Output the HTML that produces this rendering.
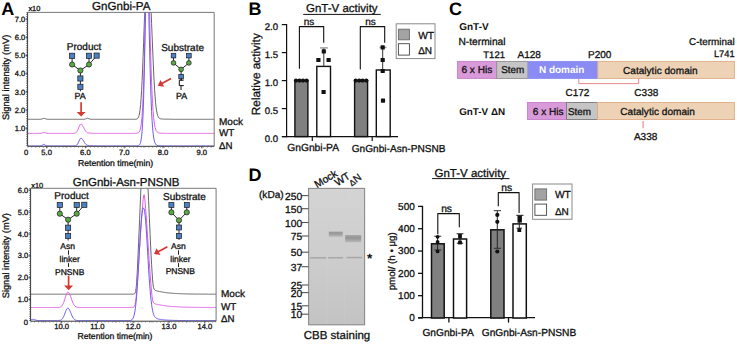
<!DOCTYPE html>
<html><head><meta charset="utf-8"><style>
html,body{margin:0;padding:0;background:#fff;}
svg{display:block;}
text{font-family:"Liberation Sans",sans-serif;text-rendering:geometricPrecision;}
</style></head><body>
<svg width="737" height="344" viewBox="0 0 737 344" font-family="Liberation Sans, sans-serif">
<rect width="737" height="344" fill="#fff"/>
<text x="1.20" y="14.60" font-size="18" text-anchor="start" font-weight="bold" fill="#000" >A</text>
<text x="92.00" y="9.70" font-size="11.6" text-anchor="start" fill="#111" stroke="#111" stroke-width="0.3" >GnGnbi-PA</text>
<text x="28.40" y="11.00" font-size="7.4" text-anchor="start" fill="#111" stroke="#111" stroke-width="0.3" >x10</text>
<defs><clipPath id="cA1"><rect x="27.6" y="12.4" width="186.6" height="133.9"/></clipPath><clipPath id="cA2"><rect x="30.6" y="188.3" width="185.5" height="132.89999999999998"/></clipPath></defs>
<g clip-path="url(#cA1)">
<path d="M27.6,119.3 L28.1,119.3 L28.6,119.3 L29.1,119.3 L29.6,119.3 L30.1,119.3 L30.6,119.3 L31.1,119.3 L31.6,119.3 L32.1,119.3 L32.6,119.3 L33.1,119.3 L33.6,119.3 L34.1,119.3 L34.6,119.3 L35.1,119.3 L35.6,119.3 L36.1,119.3 L36.6,119.3 L37.1,119.3 L37.6,119.3 L38.1,119.3 L38.6,119.3 L39.1,119.3 L39.6,119.3 L40.1,119.3 L40.6,119.2 L41.1,119.2 L41.6,119.1 L42.1,118.9 L42.6,118.7 L43.1,118.6 L43.6,118.4 L44.1,118.4 L44.6,118.5 L45.1,118.6 L45.6,118.8 L46.1,119.0 L46.6,119.1 L47.1,119.2 L47.6,119.3 L48.1,119.3 L48.6,119.3 L49.1,119.3 L49.6,119.3 L50.1,119.3 L50.6,119.3 L51.1,119.3 L51.6,119.3 L52.1,119.3 L52.6,119.3 L53.1,119.3 L53.6,119.3 L54.1,119.3 L54.6,119.3 L55.1,119.3 L55.6,119.3 L56.1,119.3 L56.6,119.3 L57.1,119.3 L57.6,119.3 L58.1,119.3 L58.6,119.3 L59.1,119.3 L59.6,119.3 L60.1,119.3 L60.6,119.3 L61.1,119.3 L61.6,119.3 L62.1,119.3 L62.6,119.3 L63.1,119.3 L63.6,119.3 L64.1,119.3 L64.6,119.3 L65.1,119.3 L65.6,119.3 L66.1,119.3 L66.6,119.3 L67.1,119.3 L67.6,119.3 L68.1,119.3 L68.6,119.3 L69.1,119.3 L69.6,119.3 L70.1,119.3 L70.6,119.3 L71.1,119.3 L71.6,119.3 L72.1,119.3 L72.6,119.3 L73.1,119.3 L73.6,119.3 L74.1,119.3 L74.6,119.3 L75.1,119.3 L75.6,119.3 L76.1,119.3 L76.6,119.3 L77.1,119.3 L77.6,119.3 L78.1,119.3 L78.6,119.3 L79.1,119.3 L79.6,119.3 L80.1,119.3 L80.6,119.3 L81.1,119.3 L81.6,119.3 L82.1,119.3 L82.6,119.3 L83.1,119.3 L83.6,119.3 L84.1,119.2 L84.6,119.2 L85.1,119.1 L85.6,118.9 L86.1,118.7 L86.6,118.5 L87.1,118.3 L87.6,118.3 L88.1,118.4 L88.6,118.6 L89.1,118.8 L89.6,119.0 L90.1,119.1 L90.6,119.2 L91.1,119.3 L91.6,119.3 L92.1,119.3 L92.6,119.3 L93.1,119.3 L93.6,119.3 L94.1,119.3 L94.6,119.3 L95.1,119.3 L95.6,119.3 L96.1,119.3 L96.6,119.3 L97.1,119.3 L97.6,119.3 L98.1,119.3 L98.6,119.3 L99.1,119.3 L99.6,119.3 L100.1,119.3 L100.6,119.3 L101.1,119.3 L101.6,119.3 L102.1,119.3 L102.6,119.3 L103.1,119.3 L103.6,119.3 L104.1,119.3 L104.6,119.3 L105.1,119.3 L105.6,119.3 L106.1,119.3 L106.6,119.3 L107.1,119.3 L107.6,119.3 L108.1,119.3 L108.6,119.3 L109.1,119.3 L109.6,119.3 L110.1,119.3 L110.6,119.3 L111.1,119.3 L111.6,119.3 L112.1,119.3 L112.6,119.3 L113.1,119.3 L113.6,119.3 L114.1,119.3 L114.6,119.3 L115.1,119.3 L115.6,119.3 L116.1,119.3 L116.6,119.3 L117.1,119.3 L117.6,119.3 L118.1,119.3 L118.6,119.3 L119.1,119.3 L119.6,119.3 L120.1,119.3 L120.6,119.3 L121.1,119.3 L121.6,119.3 L122.1,119.3 L122.6,119.3 L123.1,119.3 L123.6,119.3 L124.1,119.3 L124.6,119.3 L125.1,119.3 L125.6,119.3 L126.1,119.3 L126.6,119.3 L127.1,119.3 L127.6,119.3 L128.1,119.3 L128.6,119.3 L129.1,119.3 L129.6,119.3 L130.1,119.3 L130.6,119.3 L131.1,119.3 L131.6,119.3 L132.1,119.3 L132.6,119.3 L133.1,119.3 L133.6,119.3 L134.1,119.3 L134.6,119.3 L135.1,119.3 L135.6,119.2 L136.1,119.2 L136.6,119.1 L137.1,118.9 L137.6,118.5 L138.1,117.9 L138.6,116.9 L139.1,115.3 L139.6,112.9 L140.1,109.5 L140.6,104.7 L141.1,98.4 L141.6,90.4 L142.1,80.6 L142.6,69.2 L143.1,56.4 L143.6,42.7 L144.1,28.8 L144.6,15.4 L145.1,3.1 L145.6,-7.5 L146.1,-15.7 L146.6,-21.4 L147.1,-24.7 L147.6,-25.7 L148.1,-25.4 L148.6,-23.7 L149.1,-20.1 L149.6,-14.7 L150.1,-7.9 L150.6,1.0 L151.1,11.6 L151.6,23.3 L152.1,35.6 L152.6,48.0 L153.1,59.9 L153.6,71.0 L154.1,80.9 L154.6,89.6 L155.1,96.8 L155.6,102.7 L156.1,107.3 L156.6,110.8 L157.1,113.4 L157.6,115.3 L158.1,116.6 L158.6,117.4 L159.1,118.0 L159.6,118.4 L160.1,118.6 L160.6,118.8 L161.1,118.9 L161.6,119.0 L162.1,119.0 L162.6,119.0 L163.1,119.1 L163.6,119.1 L164.1,119.1 L164.6,119.1 L165.1,119.1 L165.6,119.2 L166.1,119.2 L166.6,119.2 L167.1,119.2 L167.6,119.2 L168.1,119.2 L168.6,119.2 L169.1,119.2 L169.6,119.2 L170.1,119.2 L170.6,119.2 L171.1,119.3 L171.6,119.3 L172.1,119.3 L172.6,119.3 L173.1,119.3 L173.6,119.3 L174.1,119.3 L174.6,119.3 L175.1,119.3 L175.6,119.3 L176.1,119.3 L176.6,119.3 L177.1,119.3 L177.6,119.3 L178.1,119.3 L178.6,119.3 L179.1,119.3 L179.6,119.3 L180.1,119.3 L180.6,119.3 L181.1,119.3 L181.6,119.3 L182.1,119.3 L182.6,119.3 L183.1,119.3 L183.6,119.3 L184.1,119.3 L184.6,119.3 L185.1,119.3 L185.6,119.3 L186.1,119.3 L186.6,119.3 L187.1,119.3 L187.6,119.3 L188.1,119.3 L188.6,119.3 L189.1,119.3 L189.6,119.3 L190.1,119.3 L190.6,119.3 L191.1,119.3 L191.6,119.3 L192.1,119.3 L192.6,119.3 L193.1,119.3 L193.6,119.3 L194.1,119.3 L194.6,119.3 L195.1,119.3 L195.6,119.3 L196.1,119.3 L196.6,119.3 L197.1,119.3 L197.6,119.3 L198.1,119.3 L198.6,119.3 L199.1,119.3 L199.6,119.3 L200.1,119.3 L200.6,119.3 L201.1,119.3 L201.6,119.3 L202.1,119.3 L202.6,119.3 L203.1,119.3 L203.6,119.3 L204.1,119.3 L204.6,119.3 L205.1,119.3 L205.6,119.3 L206.1,119.3 L206.6,119.3 L207.1,119.3 L207.6,119.3 L208.1,119.3 L208.6,119.3 L209.1,119.3 L209.6,119.3 L210.1,119.3 L210.6,119.3 L211.1,119.3 L211.6,119.3 L212.1,119.3 L212.6,119.3 L213.1,119.3 L213.6,119.3 L214.1,119.3" fill="none" stroke="#555555" stroke-width="0.9" stroke-linejoin="round" />
<path d="M27.6,133.4 L28.1,133.4 L28.6,133.4 L29.1,133.4 L29.6,133.4 L30.1,133.4 L30.6,133.4 L31.1,133.4 L31.6,133.4 L32.1,133.4 L32.6,133.4 L33.1,133.4 L33.6,133.4 L34.1,133.4 L34.6,133.4 L35.1,133.4 L35.6,133.4 L36.1,133.4 L36.6,133.4 L37.1,133.4 L37.6,133.4 L38.1,133.4 L38.6,133.4 L39.1,133.4 L39.6,133.4 L40.1,133.4 L40.6,133.3 L41.1,133.3 L41.6,133.2 L42.1,133.0 L42.6,132.8 L43.1,132.6 L43.6,132.4 L44.1,132.4 L44.6,132.5 L45.1,132.7 L45.6,132.9 L46.1,133.1 L46.6,133.2 L47.1,133.3 L47.6,133.4 L48.1,133.4 L48.6,133.4 L49.1,133.4 L49.6,133.4 L50.1,133.4 L50.6,133.4 L51.1,133.4 L51.6,133.4 L52.1,133.4 L52.6,133.4 L53.1,133.4 L53.6,133.4 L54.1,133.4 L54.6,133.4 L55.1,133.4 L55.6,133.4 L56.1,133.4 L56.6,133.4 L57.1,133.4 L57.6,133.4 L58.1,133.4 L58.6,133.4 L59.1,133.4 L59.6,133.4 L60.1,133.4 L60.6,133.4 L61.1,133.4 L61.6,133.4 L62.1,133.4 L62.6,133.4 L63.1,133.4 L63.6,133.4 L64.1,133.4 L64.6,133.4 L65.1,133.4 L65.6,133.4 L66.1,133.4 L66.6,133.4 L67.1,133.4 L67.6,133.4 L68.1,133.4 L68.6,133.4 L69.1,133.4 L69.6,133.4 L70.1,133.4 L70.6,133.4 L71.1,133.4 L71.6,133.4 L72.1,133.4 L72.6,133.4 L73.1,133.4 L73.6,133.4 L74.1,133.3 L74.6,133.2 L75.1,133.1 L75.6,132.9 L76.1,132.5 L76.6,132.0 L77.1,131.3 L77.6,130.4 L78.1,129.2 L78.6,128.0 L79.1,126.7 L79.6,125.5 L80.1,124.6 L80.6,124.1 L81.1,124.0 L81.6,124.3 L82.1,125.0 L82.6,125.8 L83.1,126.5 L83.6,127.4 L84.1,128.4 L84.6,129.4 L85.1,130.3 L85.6,131.0 L86.1,131.6 L86.6,132.1 L87.1,132.4 L87.6,132.7 L88.1,132.8 L88.6,133.0 L89.1,133.0 L89.6,133.1 L90.1,133.1 L90.6,133.2 L91.1,133.2 L91.6,133.2 L92.1,133.3 L92.6,133.3 L93.1,133.3 L93.6,133.3 L94.1,133.3 L94.6,133.3 L95.1,133.3 L95.6,133.3 L96.1,133.3 L96.6,133.4 L97.1,133.4 L97.6,133.4 L98.1,133.4 L98.6,133.4 L99.1,133.4 L99.6,133.4 L100.1,133.4 L100.6,133.4 L101.1,133.4 L101.6,133.4 L102.1,133.4 L102.6,133.4 L103.1,133.4 L103.6,133.4 L104.1,133.4 L104.6,133.4 L105.1,133.4 L105.6,133.4 L106.1,133.4 L106.6,133.4 L107.1,133.4 L107.6,133.4 L108.1,133.4 L108.6,133.4 L109.1,133.4 L109.6,133.4 L110.1,133.4 L110.6,133.4 L111.1,133.4 L111.6,133.4 L112.1,133.4 L112.6,133.4 L113.1,133.4 L113.6,133.4 L114.1,133.4 L114.6,133.4 L115.1,133.4 L115.6,133.4 L116.1,133.4 L116.6,133.4 L117.1,133.4 L117.6,133.4 L118.1,133.4 L118.6,133.4 L119.1,133.4 L119.6,133.4 L120.1,133.4 L120.6,133.4 L121.1,133.4 L121.6,133.4 L122.1,133.4 L122.6,133.4 L123.1,133.4 L123.6,133.4 L124.1,133.4 L124.6,133.4 L125.1,133.4 L125.6,133.4 L126.1,133.4 L126.6,133.4 L127.1,133.4 L127.6,133.4 L128.1,133.4 L128.6,133.4 L129.1,133.4 L129.6,133.4 L130.1,133.4 L130.6,133.4 L131.1,133.4 L131.6,133.4 L132.1,133.4 L132.6,133.4 L133.1,133.4 L133.6,133.4 L134.1,133.4 L134.6,133.4 L135.1,133.4 L135.6,133.4 L136.1,133.3 L136.6,133.3 L137.1,133.2 L137.6,133.1 L138.1,132.9 L138.6,132.6 L139.1,132.0 L139.6,131.2 L140.1,129.9 L140.6,128.0 L141.1,125.2 L141.6,121.1 L142.1,115.5 L142.6,107.7 L143.1,97.3 L143.6,84.0 L144.1,67.4 L144.6,47.5 L145.1,24.6 L145.6,-0.3 L146.1,-25.4 L146.6,-48.0 L147.1,-64.0 L147.6,-62.7 L148.1,-48.6 L148.6,-29.5 L149.1,-8.2 L149.6,13.2 L150.1,33.3 L150.6,51.9 L151.1,68.4 L151.6,82.5 L152.1,94.2 L152.6,103.7 L153.1,111.3 L153.6,117.1 L154.1,121.6 L154.6,124.9 L155.1,127.4 L155.6,129.1 L156.1,130.4 L156.6,131.3 L157.1,131.9 L157.6,132.3 L158.1,132.6 L158.6,132.8 L159.1,133.0 L159.6,133.1 L160.1,133.2 L160.6,133.2 L161.1,133.2 L161.6,133.3 L162.1,133.3 L162.6,133.3 L163.1,133.3 L163.6,133.3 L164.1,133.3 L164.6,133.3 L165.1,133.3 L165.6,133.4 L166.1,133.4 L166.6,133.4 L167.1,133.4 L167.6,133.4 L168.1,133.4 L168.6,133.4 L169.1,133.4 L169.6,133.4 L170.1,133.4 L170.6,133.4 L171.1,133.4 L171.6,133.4 L172.1,133.4 L172.6,133.4 L173.1,133.4 L173.6,133.4 L174.1,133.4 L174.6,133.4 L175.1,133.4 L175.6,133.4 L176.1,133.4 L176.6,133.4 L177.1,133.4 L177.6,133.4 L178.1,133.4 L178.6,133.4 L179.1,133.4 L179.6,133.4 L180.1,133.4 L180.6,133.4 L181.1,133.4 L181.6,133.4 L182.1,133.4 L182.6,133.4 L183.1,133.4 L183.6,133.4 L184.1,133.4 L184.6,133.4 L185.1,133.4 L185.6,133.4 L186.1,133.4 L186.6,133.4 L187.1,133.4 L187.6,133.4 L188.1,133.4 L188.6,133.4 L189.1,133.4 L189.6,133.4 L190.1,133.4 L190.6,133.4 L191.1,133.4 L191.6,133.4 L192.1,133.4 L192.6,133.4 L193.1,133.4 L193.6,133.4 L194.1,133.4 L194.6,133.4 L195.1,133.4 L195.6,133.4 L196.1,133.4 L196.6,133.4 L197.1,133.4 L197.6,133.4 L198.1,133.4 L198.6,133.4 L199.1,133.4 L199.6,133.4 L200.1,133.4 L200.6,133.4 L201.1,133.4 L201.6,133.4 L202.1,133.4 L202.6,133.4 L203.1,133.4 L203.6,133.4 L204.1,133.4 L204.6,133.4 L205.1,133.4 L205.6,133.4 L206.1,133.4 L206.6,133.4 L207.1,133.4 L207.6,133.4 L208.1,133.4 L208.6,133.4 L209.1,133.4 L209.6,133.4 L210.1,133.4 L210.6,133.4 L211.1,133.4 L211.6,133.4 L212.1,133.4 L212.6,133.4 L213.1,133.4 L213.6,133.4 L214.1,133.4" fill="none" stroke="#e05ce6" stroke-width="1.0" stroke-linejoin="round" />
<path d="M27.6,146.0 L28.1,146.0 L28.6,146.0 L29.1,146.0 L29.6,146.0 L30.1,146.0 L30.6,146.0 L31.1,146.0 L31.6,146.0 L32.1,146.0 L32.6,146.0 L33.1,146.0 L33.6,146.0 L34.1,146.0 L34.6,146.0 L35.1,146.0 L35.6,146.0 L36.1,146.0 L36.6,146.0 L37.1,146.0 L37.6,146.0 L38.1,146.0 L38.6,146.0 L39.1,146.0 L39.6,146.0 L40.1,146.0 L40.6,145.9 L41.1,145.8 L41.6,145.6 L42.1,145.3 L42.6,145.0 L43.1,144.6 L43.6,144.4 L44.1,144.4 L44.6,144.7 L45.1,145.1 L45.6,145.4 L46.1,145.7 L46.6,145.9 L47.1,145.9 L47.6,146.0 L48.1,146.0 L48.6,146.0 L49.1,146.0 L49.6,146.0 L50.1,146.0 L50.6,146.0 L51.1,146.0 L51.6,146.0 L52.1,146.0 L52.6,146.0 L53.1,146.0 L53.6,146.0 L54.1,146.0 L54.6,146.0 L55.1,146.0 L55.6,146.0 L56.1,146.0 L56.6,146.0 L57.1,146.0 L57.6,146.0 L58.1,146.0 L58.6,146.0 L59.1,146.0 L59.6,146.0 L60.1,146.0 L60.6,146.0 L61.1,146.0 L61.6,146.0 L62.1,146.0 L62.6,146.0 L63.1,146.0 L63.6,146.0 L64.1,146.0 L64.6,146.0 L65.1,146.0 L65.6,146.0 L66.1,146.0 L66.6,146.0 L67.1,146.0 L67.6,146.0 L68.1,146.0 L68.6,146.0 L69.1,146.0 L69.6,146.0 L70.1,146.0 L70.6,146.0 L71.1,146.0 L71.6,146.0 L72.1,146.0 L72.6,146.0 L73.1,146.0 L73.6,146.0 L74.1,146.0 L74.6,145.9 L75.1,145.9 L75.6,145.8 L76.1,145.6 L76.6,145.2 L77.1,144.7 L77.6,144.0 L78.1,143.1 L78.6,142.1 L79.1,140.9 L79.6,139.8 L80.1,138.9 L80.6,138.3 L81.1,138.2 L81.6,138.4 L82.1,139.0 L82.6,139.6 L83.1,140.2 L83.6,140.9 L84.1,141.8 L84.6,142.7 L85.1,143.4 L85.6,144.0 L86.1,144.5 L86.6,144.9 L87.1,145.1 L87.6,145.3 L88.1,145.5 L88.6,145.6 L89.1,145.6 L89.6,145.7 L90.1,145.7 L90.6,145.8 L91.1,145.8 L91.6,145.8 L92.1,145.8 L92.6,145.9 L93.1,145.9 L93.6,145.9 L94.1,145.9 L94.6,145.9 L95.1,145.9 L95.6,145.9 L96.1,145.9 L96.6,145.9 L97.1,146.0 L97.6,146.0 L98.1,146.0 L98.6,146.0 L99.1,146.0 L99.6,146.0 L100.1,146.0 L100.6,146.0 L101.1,146.0 L101.6,146.0 L102.1,146.0 L102.6,146.0 L103.1,146.0 L103.6,146.0 L104.1,146.0 L104.6,146.0 L105.1,146.0 L105.6,146.0 L106.1,146.0 L106.6,146.0 L107.1,146.0 L107.6,146.0 L108.1,146.0 L108.6,146.0 L109.1,146.0 L109.6,146.0 L110.1,146.0 L110.6,146.0 L111.1,146.0 L111.6,146.0 L112.1,146.0 L112.6,146.0 L113.1,146.0 L113.6,146.0 L114.1,146.0 L114.6,146.0 L115.1,146.0 L115.6,146.0 L116.1,146.0 L116.6,146.0 L117.1,146.0 L117.6,146.0 L118.1,146.0 L118.6,146.0 L119.1,146.0 L119.6,146.0 L120.1,146.0 L120.6,146.0 L121.1,146.0 L121.6,146.0 L122.1,146.0 L122.6,146.0 L123.1,146.0 L123.6,146.0 L124.1,146.0 L124.6,146.0 L125.1,146.0 L125.6,146.0 L126.1,146.0 L126.6,146.0 L127.1,146.0 L127.6,146.0 L128.1,146.0 L128.6,146.0 L129.1,146.0 L129.6,146.0 L130.1,146.0 L130.6,146.0 L131.1,146.0 L131.6,146.0 L132.1,146.0 L132.6,146.0 L133.1,146.0 L133.6,146.0 L134.1,146.0 L134.6,146.0 L135.1,146.0 L135.6,146.0 L136.1,146.0 L136.6,146.0 L137.1,145.9 L137.6,145.9 L138.1,145.8 L138.6,145.6 L139.1,145.2 L139.6,144.7 L140.1,143.7 L140.6,142.3 L141.1,139.9 L141.6,136.4 L142.1,131.1 L142.6,123.5 L143.1,113.0 L143.6,98.9 L144.1,80.8 L144.6,58.6 L145.1,32.9 L145.6,5.0 L146.1,-22.3 L146.6,-44.8 L147.1,-53.2 L147.6,-40.7 L148.1,-20.9 L148.6,2.2 L149.1,25.9 L149.6,48.3 L150.1,68.1 L150.6,85.4 L151.1,99.9 L151.6,111.6 L152.1,120.8 L152.6,127.9 L153.1,133.2 L153.6,137.0 L154.1,139.8 L154.6,141.8 L155.1,143.1 L155.6,144.0 L156.1,144.6 L156.6,145.1 L157.1,145.3 L157.6,145.5 L158.1,145.6 L158.6,145.7 L159.1,145.8 L159.6,145.8 L160.1,145.8 L160.6,145.9 L161.1,145.9 L161.6,145.9 L162.1,145.9 L162.6,145.9 L163.1,145.9 L163.6,145.9 L164.1,145.9 L164.6,146.0 L165.1,146.0 L165.6,146.0 L166.1,146.0 L166.6,146.0 L167.1,146.0 L167.6,146.0 L168.1,146.0 L168.6,146.0 L169.1,146.0 L169.6,146.0 L170.1,146.0 L170.6,146.0 L171.1,146.0 L171.6,146.0 L172.1,146.0 L172.6,146.0 L173.1,146.0 L173.6,146.0 L174.1,146.0 L174.6,146.0 L175.1,146.0 L175.6,146.0 L176.1,146.0 L176.6,146.0 L177.1,146.0 L177.6,146.0 L178.1,146.0 L178.6,146.0 L179.1,146.0 L179.6,146.0 L180.1,146.0 L180.6,146.0 L181.1,146.0 L181.6,146.0 L182.1,146.0 L182.6,146.0 L183.1,146.0 L183.6,146.0 L184.1,146.0 L184.6,146.0 L185.1,146.0 L185.6,146.0 L186.1,146.0 L186.6,146.0 L187.1,146.0 L187.6,146.0 L188.1,146.0 L188.6,146.0 L189.1,146.0 L189.6,146.0 L190.1,146.0 L190.6,146.0 L191.1,146.0 L191.6,146.0 L192.1,146.0 L192.6,146.0 L193.1,146.0 L193.6,146.0 L194.1,146.0 L194.6,146.0 L195.1,146.0 L195.6,146.0 L196.1,146.0 L196.6,146.0 L197.1,146.0 L197.6,146.0 L198.1,146.0 L198.6,146.0 L199.1,146.0 L199.6,146.0 L200.1,146.0 L200.6,146.0 L201.1,146.0 L201.6,146.0 L202.1,146.0 L202.6,146.0 L203.1,146.0 L203.6,146.0 L204.1,146.0 L204.6,146.0 L205.1,146.0 L205.6,146.0 L206.1,146.0 L206.6,146.0 L207.1,146.0 L207.6,146.0 L208.1,146.0 L208.6,146.0 L209.1,146.0 L209.6,146.0 L210.1,146.0 L210.6,146.0 L211.1,146.0 L211.6,146.0 L212.1,146.0 L212.6,146.0 L213.1,146.0 L213.6,146.0 L214.1,146.0" fill="none" stroke="#6a5cf0" stroke-width="1.0" stroke-linejoin="round" />
</g>
<line x1="27.60" y1="12.40" x2="214.20" y2="12.40" stroke="#6a6a6a" stroke-width="0.9" />
<line x1="214.20" y1="12.40" x2="214.20" y2="146.30" stroke="#6a6a6a" stroke-width="0.9" />
<line x1="27.60" y1="12.40" x2="27.60" y2="146.30" stroke="#222" stroke-width="0.9" />
<line x1="27.60" y1="146.30" x2="214.20" y2="146.30" stroke="#222" stroke-width="0.9" />
<line x1="26.70" y1="12.40" x2="26.70" y2="146.30" stroke="#444" stroke-width="1.0" stroke-dasharray="0.7 1.12"/>
<line x1="27.60" y1="147.20" x2="214.20" y2="147.20" stroke="#666" stroke-width="0.9" stroke-dasharray="0.7 3.2"/>
<text x="25.20" y="130.90" font-size="7.5" text-anchor="end" fill="#111" stroke="#111" stroke-width="0.3" >1.0</text>
<line x1="25.60" y1="128.30" x2="27.60" y2="128.30" stroke="#222" stroke-width="0.8" />
<text x="25.20" y="112.70" font-size="7.5" text-anchor="end" fill="#111" stroke="#111" stroke-width="0.3" >2.0</text>
<line x1="25.60" y1="110.10" x2="27.60" y2="110.10" stroke="#222" stroke-width="0.8" />
<text x="25.20" y="94.50" font-size="7.5" text-anchor="end" fill="#111" stroke="#111" stroke-width="0.3" >3.0</text>
<line x1="25.60" y1="91.90" x2="27.60" y2="91.90" stroke="#222" stroke-width="0.8" />
<text x="25.20" y="76.30" font-size="7.5" text-anchor="end" fill="#111" stroke="#111" stroke-width="0.3" >4.0</text>
<line x1="25.60" y1="73.70" x2="27.60" y2="73.70" stroke="#222" stroke-width="0.8" />
<text x="25.20" y="58.10" font-size="7.5" text-anchor="end" fill="#111" stroke="#111" stroke-width="0.3" >5.0</text>
<line x1="25.60" y1="55.50" x2="27.60" y2="55.50" stroke="#222" stroke-width="0.8" />
<text x="25.20" y="39.90" font-size="7.5" text-anchor="end" fill="#111" stroke="#111" stroke-width="0.3" >6.0</text>
<line x1="25.60" y1="37.30" x2="27.60" y2="37.30" stroke="#222" stroke-width="0.8" />
<text x="25.20" y="21.70" font-size="7.5" text-anchor="end" fill="#111" stroke="#111" stroke-width="0.3" >7.0</text>
<line x1="25.60" y1="19.10" x2="27.60" y2="19.10" stroke="#222" stroke-width="0.8" />
<text x="26.00" y="154.70" font-size="7.6" text-anchor="middle" fill="#111" stroke="#111" stroke-width="0.3" >0</text>
<line x1="46.60" y1="146.30" x2="46.60" y2="148.30" stroke="#333" stroke-width="0.8" />
<text x="46.60" y="154.80" font-size="7.6" text-anchor="middle" fill="#111" stroke="#111" stroke-width="0.3" >5.0</text>
<line x1="85.40" y1="146.30" x2="85.40" y2="148.30" stroke="#333" stroke-width="0.8" />
<text x="85.40" y="154.80" font-size="7.6" text-anchor="middle" fill="#111" stroke="#111" stroke-width="0.3" >6.0</text>
<line x1="124.20" y1="146.30" x2="124.20" y2="148.30" stroke="#333" stroke-width="0.8" />
<text x="124.20" y="154.80" font-size="7.6" text-anchor="middle" fill="#111" stroke="#111" stroke-width="0.3" >7.0</text>
<line x1="163.00" y1="146.30" x2="163.00" y2="148.30" stroke="#333" stroke-width="0.8" />
<text x="163.00" y="154.80" font-size="7.6" text-anchor="middle" fill="#111" stroke="#111" stroke-width="0.3" >8.0</text>
<line x1="201.80" y1="146.30" x2="201.80" y2="148.30" stroke="#333" stroke-width="0.8" />
<text x="201.80" y="154.80" font-size="7.6" text-anchor="middle" fill="#111" stroke="#111" stroke-width="0.3" >9.0</text>
<line x1="66.00" y1="146.30" x2="66.00" y2="147.50" stroke="#555" stroke-width="0.7" />
<line x1="104.80" y1="146.30" x2="104.80" y2="147.50" stroke="#555" stroke-width="0.7" />
<line x1="143.60" y1="146.30" x2="143.60" y2="147.50" stroke="#555" stroke-width="0.7" />
<line x1="182.40" y1="146.30" x2="182.40" y2="147.50" stroke="#555" stroke-width="0.7" />
<line x1="201.80" y1="146.30" x2="201.80" y2="147.50" stroke="#555" stroke-width="0.7" />
<text x="78.10" y="165.80" font-size="8.6" text-anchor="start" fill="#111" stroke="#111" stroke-width="0.3" >Retention time(min)</text>
<text transform="translate(9.3,77.4) rotate(-90)" font-size="9.3" text-anchor="middle" fill="#111" stroke="#111" stroke-width="0.3">Signal intensity (mV)</text>
<text x="219.00" y="124.50" font-size="10.0" text-anchor="start" fill="#111" stroke="#111" stroke-width="0.3" >Mock</text>
<text x="219.00" y="135.80" font-size="9.9" text-anchor="start" fill="#111" stroke="#111" stroke-width="0.3" >WT</text>
<text x="219.00" y="148.70" font-size="9.7" text-anchor="start" fill="#111" stroke="#111" stroke-width="0.3" >&#916;N</text>
<text x="84.00" y="49.60" font-size="10.0" text-anchor="middle" fill="#111" stroke="#111" stroke-width="0.3" >Product</text>
<line x1="72.10" y1="55.80" x2="72.10" y2="64.50" stroke="#111" stroke-width="0.9" />
<line x1="72.10" y1="64.50" x2="80.40" y2="70.50" stroke="#111" stroke-width="0.9" />
<line x1="89.00" y1="64.50" x2="80.40" y2="70.50" stroke="#111" stroke-width="0.9" />
<line x1="89.00" y1="55.80" x2="89.00" y2="64.50" stroke="#111" stroke-width="0.9" />
<line x1="96.60" y1="55.80" x2="89.00" y2="64.50" stroke="#111" stroke-width="0.9" />
<line x1="80.40" y1="70.50" x2="80.40" y2="91.30" stroke="#111" stroke-width="0.9" />
<rect x="69.50" y="53.20" width="5.20" height="5.20" fill="#4d7fc4" stroke="#1a1a1a" stroke-width="0.7" />
<rect x="86.40" y="53.20" width="5.20" height="5.20" fill="#4d7fc4" stroke="#1a1a1a" stroke-width="0.7" />
<rect x="94.00" y="53.00" width="5.20" height="5.20" fill="#4d7fc4" stroke="#1a1a1a" stroke-width="0.7" />
<circle cx="72.10" cy="64.50" r="2.6" fill="#5aa845" stroke="#1a1a1a" stroke-width="0.7"/>
<circle cx="89.00" cy="64.50" r="2.6" fill="#5aa845" stroke="#1a1a1a" stroke-width="0.7"/>
<circle cx="80.40" cy="70.50" r="2.6" fill="#5aa845" stroke="#1a1a1a" stroke-width="0.7"/>
<rect x="77.80" y="75.90" width="5.20" height="5.20" fill="#4d7fc4" stroke="#1a1a1a" stroke-width="0.7" />
<rect x="77.80" y="84.20" width="5.20" height="5.20" fill="#4d7fc4" stroke="#1a1a1a" stroke-width="0.7" />
<text x="80.00" y="99.20" font-size="8.9" text-anchor="middle" fill="#111" stroke="#111" stroke-width="0.3" >PA</text>
<line x1="81.10" y1="102.20" x2="81.10" y2="112.60" stroke="#d43a33" stroke-width="1.7" />
<path d="M76.60,111.90 L85.60,111.90 L81.10,116.60 Z" fill="#d43a33"/>
<text x="182.60" y="51.10" font-size="10.0" text-anchor="middle" fill="#111" stroke="#111" stroke-width="0.3" >Substrate</text>
<line x1="173.50" y1="55.60" x2="173.50" y2="62.90" stroke="#111" stroke-width="0.9" />
<line x1="173.50" y1="62.90" x2="181.10" y2="69.40" stroke="#111" stroke-width="0.9" />
<line x1="188.90" y1="62.90" x2="181.10" y2="69.40" stroke="#111" stroke-width="0.9" />
<line x1="188.90" y1="55.60" x2="188.90" y2="62.90" stroke="#111" stroke-width="0.9" />
<line x1="181.10" y1="69.40" x2="181.10" y2="80.60" stroke="#111" stroke-width="0.9" />
<rect x="171.20" y="53.30" width="4.60" height="4.60" fill="#4d7fc4" stroke="#1a1a1a" stroke-width="0.7" />
<rect x="186.60" y="53.30" width="4.60" height="4.60" fill="#4d7fc4" stroke="#1a1a1a" stroke-width="0.7" />
<circle cx="173.50" cy="62.90" r="2.35" fill="#5aa845" stroke="#1a1a1a" stroke-width="0.7"/>
<circle cx="188.90" cy="62.90" r="2.35" fill="#5aa845" stroke="#1a1a1a" stroke-width="0.7"/>
<circle cx="181.10" cy="69.40" r="2.35" fill="#5aa845" stroke="#1a1a1a" stroke-width="0.7"/>
<rect x="178.80" y="74.30" width="4.60" height="4.60" fill="#4d7fc4" stroke="#1a1a1a" stroke-width="0.7" />
<path d="M181.2,78.0 L181.2,80.2" fill="none" stroke="#111" stroke-width="0.9" stroke-linejoin="round" />
<path d="M183.6,80.2 L179.3,80.2 L179.3,85.6 L183.8,85.6" fill="none" stroke="#111" stroke-width="1.0" stroke-linejoin="round" />
<line x1="181.00" y1="85.60" x2="181.00" y2="90.00" stroke="#111" stroke-width="1.0" />
<text x="181.50" y="98.80" font-size="8.9" text-anchor="middle" fill="#111" stroke="#111" stroke-width="0.3" >PA</text>
<line x1="171.00" y1="78.60" x2="161.93" y2="83.55" stroke="#d43a33" stroke-width="1.7" />
<path d="M160.50,79.89 L164.23,86.73 L157.80,85.80 Z" fill="#d43a33"/>
<text x="72.70" y="186.30" font-size="11.5" text-anchor="start" fill="#111" stroke="#111" stroke-width="0.3" >GnGnbi-Asn-PNSNB</text>
<text x="31.30" y="187.60" font-size="7.4" text-anchor="start" fill="#111" stroke="#111" stroke-width="0.3" >x10</text>
<g clip-path="url(#cA2)">
<path d="M30.6,294.2 L31.1,294.2 L31.6,294.2 L32.1,294.2 L32.6,294.2 L33.1,294.2 L33.6,294.2 L34.1,294.2 L34.6,294.2 L35.1,294.2 L35.6,294.2 L36.1,294.2 L36.6,294.2 L37.1,294.2 L37.6,294.2 L38.1,294.2 L38.6,294.2 L39.1,294.2 L39.6,294.2 L40.1,294.2 L40.6,294.2 L41.1,294.2 L41.6,294.2 L42.1,294.2 L42.6,294.2 L43.1,294.2 L43.6,294.2 L44.1,294.2 L44.6,294.2 L45.1,294.2 L45.6,294.2 L46.1,294.2 L46.6,294.2 L47.1,294.2 L47.6,294.2 L48.1,294.2 L48.6,294.2 L49.1,294.2 L49.6,294.2 L50.1,294.2 L50.6,294.2 L51.1,294.2 L51.6,294.2 L52.1,294.2 L52.6,294.2 L53.1,294.2 L53.6,294.2 L54.1,294.2 L54.6,294.2 L55.1,294.2 L55.6,294.2 L56.1,294.2 L56.6,294.2 L57.1,294.2 L57.6,294.2 L58.1,294.2 L58.6,294.2 L59.1,294.2 L59.6,294.2 L60.1,294.2 L60.6,294.2 L61.1,294.2 L61.6,294.2 L62.1,294.2 L62.6,294.2 L63.1,294.2 L63.6,294.2 L64.1,294.2 L64.6,294.2 L65.1,294.2 L65.6,294.2 L66.1,294.2 L66.6,294.2 L67.1,294.2 L67.6,294.2 L68.1,294.2 L68.6,294.2 L69.1,294.2 L69.6,294.2 L70.1,294.2 L70.6,294.2 L71.1,294.2 L71.6,294.2 L72.1,294.2 L72.6,294.2 L73.1,294.2 L73.6,294.2 L74.1,294.2 L74.6,294.2 L75.1,294.2 L75.6,294.2 L76.1,294.2 L76.6,294.2 L77.1,294.2 L77.6,294.2 L78.1,294.2 L78.6,294.2 L79.1,294.2 L79.6,294.2 L80.1,294.2 L80.6,294.2 L81.1,294.2 L81.6,294.2 L82.1,294.2 L82.6,294.2 L83.1,294.2 L83.6,294.2 L84.1,294.2 L84.6,294.2 L85.1,294.2 L85.6,294.2 L86.1,294.2 L86.6,294.2 L87.1,294.2 L87.6,294.2 L88.1,294.2 L88.6,294.2 L89.1,294.2 L89.6,294.2 L90.1,294.2 L90.6,294.2 L91.1,294.2 L91.6,294.2 L92.1,294.2 L92.6,294.2 L93.1,294.2 L93.6,294.2 L94.1,294.2 L94.6,294.2 L95.1,294.2 L95.6,294.2 L96.1,294.2 L96.6,294.2 L97.1,294.2 L97.6,294.2 L98.1,294.2 L98.6,294.2 L99.1,294.2 L99.6,294.2 L100.1,294.2 L100.6,294.2 L101.1,294.2 L101.6,294.2 L102.1,294.2 L102.6,294.2 L103.1,294.2 L103.6,294.2 L104.1,294.2 L104.6,294.2 L105.1,294.2 L105.6,294.2 L106.1,294.2 L106.6,294.2 L107.1,294.2 L107.6,294.2 L108.1,294.2 L108.6,294.2 L109.1,294.2 L109.6,294.2 L110.1,294.2 L110.6,294.2 L111.1,294.2 L111.6,294.2 L112.1,294.2 L112.6,294.2 L113.1,294.2 L113.6,294.2 L114.1,294.2 L114.6,294.2 L115.1,294.2 L115.6,294.2 L116.1,294.2 L116.6,294.2 L117.1,294.2 L117.6,294.2 L118.1,294.2 L118.6,294.2 L119.1,294.2 L119.6,294.2 L120.1,294.2 L120.6,294.2 L121.1,294.2 L121.6,294.2 L122.1,294.2 L122.6,294.2 L123.1,294.2 L123.6,294.2 L124.1,294.2 L124.6,294.2 L125.1,294.2 L125.6,294.2 L126.1,294.2 L126.6,294.2 L127.1,294.2 L127.6,294.2 L128.1,294.2 L128.6,294.2 L129.1,294.2 L129.6,294.2 L130.1,294.2 L130.6,294.2 L131.1,294.2 L131.6,294.2 L132.1,294.2 L132.6,294.2 L133.1,294.2 L133.6,294.1 L134.1,294.0 L134.6,293.7 L135.1,293.0 L135.6,291.5 L136.1,288.4 L136.6,282.9 L137.1,274.9 L137.6,265.0 L138.1,254.1 L138.6,242.7 L139.1,231.0 L139.6,219.3 L140.1,207.6 L140.6,195.8 L141.1,184.2 L141.6,172.7 L142.1,161.3 L142.6,150.1 L143.1,139.6 L143.6,130.1 L144.1,123.5 L144.6,122.8 L145.1,128.2 L145.6,136.7 L146.1,146.6 L146.6,157.1 L147.1,167.8 L147.6,178.7 L148.1,189.8 L148.6,200.8 L149.1,212.0 L149.6,223.1 L150.1,234.2 L150.6,245.2 L151.1,255.7 L151.6,264.6 L152.1,272.9 L152.6,279.9 L153.1,284.8 L153.6,287.7 L154.1,289.2 L154.6,289.9 L155.1,290.3 L155.6,290.5 L156.1,290.7 L156.6,290.8 L157.1,290.9 L157.6,291.1 L158.1,291.2 L158.6,291.3 L159.1,291.4 L159.6,291.5 L160.1,291.6 L160.6,291.7 L161.1,291.8 L161.6,291.9 L162.1,292.0 L162.6,292.1 L163.1,292.2 L163.6,292.3 L164.1,292.4 L164.6,292.4 L165.1,292.5 L165.6,292.6 L166.1,292.6 L166.6,292.7 L167.1,292.8 L167.6,292.8 L168.1,292.9 L168.6,292.9 L169.1,293.0 L169.6,293.0 L170.1,293.1 L170.6,293.1 L171.1,293.2 L171.6,293.2 L172.1,293.3 L172.6,293.3 L173.1,293.3 L173.6,293.4 L174.1,293.4 L174.6,293.4 L175.1,293.5 L175.6,293.5 L176.1,293.5 L176.6,293.5 L177.1,293.6 L177.6,293.6 L178.1,293.6 L178.6,293.6 L179.1,293.7 L179.6,293.7 L180.1,293.7 L180.6,293.7 L181.1,293.8 L181.6,293.8 L182.1,293.8 L182.6,293.8 L183.1,293.8 L183.6,293.8 L184.1,293.9 L184.6,293.9 L185.1,293.9 L185.6,293.9 L186.1,293.9 L186.6,293.9 L187.1,293.9 L187.6,293.9 L188.1,294.0 L188.6,294.0 L189.1,294.0 L189.6,294.0 L190.1,294.0 L190.6,294.0 L191.1,294.0 L191.6,294.0 L192.1,294.0 L192.6,294.0 L193.1,294.0 L193.6,294.0 L194.1,294.0 L194.6,294.1 L195.1,294.1 L195.6,294.1 L196.1,294.1 L196.6,294.1 L197.1,294.1 L197.6,294.1 L198.1,294.1 L198.6,294.1 L199.1,294.1 L199.6,294.1 L200.1,294.1 L200.6,294.1 L201.1,294.1 L201.6,294.1 L202.1,294.1 L202.6,294.1 L203.1,294.1 L203.6,294.1 L204.1,294.1 L204.6,294.1 L205.1,294.1 L205.6,294.1 L206.1,294.1 L206.6,294.1 L207.1,294.1 L207.6,294.2 L208.1,294.2 L208.6,294.2 L209.1,294.2 L209.6,294.2 L210.1,294.2 L210.6,294.2 L211.1,294.2 L211.6,294.2 L212.1,294.2 L212.6,294.2 L213.1,294.2 L213.6,294.2 L214.1,294.2 L214.6,294.2 L215.1,294.2 L215.6,294.2 L216.1,294.2" fill="none" stroke="#555555" stroke-width="0.9" stroke-linejoin="round" />
<path d="M30.6,307.5 L31.1,307.5 L31.6,307.5 L32.1,307.5 L32.6,307.5 L33.1,307.5 L33.6,307.5 L34.1,307.5 L34.6,307.5 L35.1,307.5 L35.6,307.5 L36.1,307.5 L36.6,307.5 L37.1,307.5 L37.6,307.5 L38.1,307.5 L38.6,307.5 L39.1,307.5 L39.6,307.5 L40.1,307.5 L40.6,307.5 L41.1,307.5 L41.6,307.5 L42.1,307.5 L42.6,307.5 L43.1,307.5 L43.6,307.5 L44.1,307.5 L44.6,307.5 L45.1,307.5 L45.6,307.5 L46.1,307.5 L46.6,307.5 L47.1,307.5 L47.6,307.5 L48.1,307.5 L48.6,307.5 L49.1,307.5 L49.6,307.5 L50.1,307.5 L50.6,307.5 L51.1,307.5 L51.6,307.5 L52.1,307.5 L52.6,307.5 L53.1,307.5 L53.6,307.5 L54.1,307.5 L54.6,307.5 L55.1,307.5 L55.6,307.5 L56.1,307.5 L56.6,307.5 L57.1,307.5 L57.6,307.5 L58.1,307.5 L58.6,307.4 L59.1,307.4 L59.6,307.3 L60.1,307.1 L60.6,306.9 L61.1,306.6 L61.6,306.2 L62.1,305.6 L62.6,304.8 L63.1,303.8 L63.6,302.6 L64.1,301.3 L64.6,299.8 L65.1,298.2 L65.6,296.6 L66.1,295.1 L66.6,293.8 L67.1,292.8 L67.6,292.2 L68.1,292.1 L68.6,292.4 L69.1,293.0 L69.6,293.9 L70.1,295.1 L70.6,296.5 L71.1,297.9 L71.6,299.4 L72.1,300.8 L72.6,302.1 L73.1,303.2 L73.6,304.2 L74.1,305.0 L74.6,305.7 L75.1,306.2 L75.6,306.6 L76.1,306.9 L76.6,307.1 L77.1,307.2 L77.6,307.3 L78.1,307.4 L78.6,307.4 L79.1,307.5 L79.6,307.5 L80.1,307.5 L80.6,307.5 L81.1,307.5 L81.6,307.5 L82.1,307.5 L82.6,307.5 L83.1,307.5 L83.6,307.5 L84.1,307.5 L84.6,307.5 L85.1,307.5 L85.6,307.5 L86.1,307.5 L86.6,307.5 L87.1,307.5 L87.6,307.5 L88.1,307.5 L88.6,307.5 L89.1,307.5 L89.6,307.5 L90.1,307.5 L90.6,307.5 L91.1,307.5 L91.6,307.5 L92.1,307.5 L92.6,307.5 L93.1,307.5 L93.6,307.5 L94.1,307.5 L94.6,307.5 L95.1,307.5 L95.6,307.5 L96.1,307.5 L96.6,307.5 L97.1,307.5 L97.6,307.5 L98.1,307.5 L98.6,307.5 L99.1,307.5 L99.6,307.5 L100.1,307.5 L100.6,307.5 L101.1,307.5 L101.6,307.5 L102.1,307.5 L102.6,307.5 L103.1,307.5 L103.6,307.5 L104.1,307.5 L104.6,307.5 L105.1,307.5 L105.6,307.5 L106.1,307.5 L106.6,307.5 L107.1,307.5 L107.6,307.5 L108.1,307.5 L108.6,307.5 L109.1,307.5 L109.6,307.5 L110.1,307.5 L110.6,307.5 L111.1,307.5 L111.6,307.5 L112.1,307.5 L112.6,307.5 L113.1,307.5 L113.6,307.5 L114.1,307.5 L114.6,307.5 L115.1,307.5 L115.6,307.5 L116.1,307.5 L116.6,307.5 L117.1,307.5 L117.6,307.5 L118.1,307.5 L118.6,307.5 L119.1,307.5 L119.6,307.5 L120.1,307.5 L120.6,307.5 L121.1,307.5 L121.6,307.5 L122.1,307.5 L122.6,307.5 L123.1,307.5 L123.6,307.5 L124.1,307.5 L124.6,307.5 L125.1,307.5 L125.6,307.5 L126.1,307.5 L126.6,307.5 L127.1,307.5 L127.6,307.5 L128.1,307.5 L128.6,307.5 L129.1,307.5 L129.6,307.5 L130.1,307.5 L130.6,307.5 L131.1,307.5 L131.6,307.5 L132.1,307.5 L132.6,307.4 L133.1,307.4 L133.6,307.2 L134.1,306.9 L134.6,306.1 L135.1,304.6 L135.6,301.7 L136.1,297.3 L136.6,291.6 L137.1,284.9 L137.6,277.8 L138.1,270.5 L138.6,263.0 L139.1,255.6 L139.6,248.1 L140.1,240.7 L140.6,233.3 L141.1,226.1 L141.6,218.9 L142.1,212.0 L142.6,205.5 L143.1,199.8 L143.6,195.7 L144.1,194.6 L144.6,197.1 L145.1,202.0 L145.6,208.2 L146.1,215.0 L146.6,222.1 L147.1,229.4 L147.6,236.9 L148.1,244.3 L148.6,251.9 L149.1,259.4 L149.6,267.0 L150.1,274.1 L150.6,280.1 L151.1,286.2 L151.6,291.9 L152.1,296.6 L152.6,299.9 L153.1,301.9 L153.6,302.9 L154.1,303.4 L154.6,303.7 L155.1,303.8 L155.6,304.0 L156.1,304.1 L156.6,304.2 L157.1,304.3 L157.6,304.5 L158.1,304.6 L158.6,304.7 L159.1,304.8 L159.6,304.9 L160.1,305.0 L160.6,305.1 L161.1,305.2 L161.6,305.2 L162.1,305.3 L162.6,305.4 L163.1,305.5 L163.6,305.6 L164.1,305.6 L164.6,305.7 L165.1,305.8 L165.6,305.8 L166.1,305.9 L166.6,306.0 L167.1,306.0 L167.6,306.1 L168.1,306.1 L168.6,306.2 L169.1,306.2 L169.6,306.3 L170.1,306.3 L170.6,306.4 L171.1,306.4 L171.6,306.5 L172.1,306.5 L172.6,306.5 L173.1,306.6 L173.6,306.6 L174.1,306.6 L174.6,306.7 L175.1,306.7 L175.6,306.7 L176.1,306.8 L176.6,306.8 L177.1,306.8 L177.6,306.8 L178.1,306.9 L178.6,306.9 L179.1,306.9 L179.6,306.9 L180.1,307.0 L180.6,307.0 L181.1,307.0 L181.6,307.0 L182.1,307.0 L182.6,307.1 L183.1,307.1 L183.6,307.1 L184.1,307.1 L184.6,307.1 L185.1,307.1 L185.6,307.1 L186.1,307.2 L186.6,307.2 L187.1,307.2 L187.6,307.2 L188.1,307.2 L188.6,307.2 L189.1,307.2 L189.6,307.2 L190.1,307.2 L190.6,307.3 L191.1,307.3 L191.6,307.3 L192.1,307.3 L192.6,307.3 L193.1,307.3 L193.6,307.3 L194.1,307.3 L194.6,307.3 L195.1,307.3 L195.6,307.3 L196.1,307.3 L196.6,307.3 L197.1,307.4 L197.6,307.4 L198.1,307.4 L198.6,307.4 L199.1,307.4 L199.6,307.4 L200.1,307.4 L200.6,307.4 L201.1,307.4 L201.6,307.4 L202.1,307.4 L202.6,307.4 L203.1,307.4 L203.6,307.4 L204.1,307.4 L204.6,307.4 L205.1,307.4 L205.6,307.4 L206.1,307.4 L206.6,307.4 L207.1,307.4 L207.6,307.4 L208.1,307.4 L208.6,307.4 L209.1,307.4 L209.6,307.4 L210.1,307.4 L210.6,307.4 L211.1,307.4 L211.6,307.5 L212.1,307.5 L212.6,307.5 L213.1,307.5 L213.6,307.5 L214.1,307.5 L214.6,307.5 L215.1,307.5 L215.6,307.5 L216.1,307.5" fill="none" stroke="#e05ce6" stroke-width="1.0" stroke-linejoin="round" />
<path d="M30.6,320.0 L31.1,319.8 L31.6,319.6 L32.1,319.5 L32.6,319.4 L33.1,319.4 L33.6,319.4 L34.1,319.6 L34.6,319.7 L35.1,319.9 L35.6,320.0 L36.1,320.2 L36.6,320.3 L37.1,320.4 L37.6,320.5 L38.1,320.5 L38.6,320.6 L39.1,320.6 L39.6,320.6 L40.1,320.6 L40.6,320.6 L41.1,320.6 L41.6,320.6 L42.1,320.6 L42.6,320.6 L43.1,320.6 L43.6,320.6 L44.1,320.6 L44.6,320.6 L45.1,320.6 L45.6,320.6 L46.1,320.6 L46.6,320.6 L47.1,320.6 L47.6,320.6 L48.1,320.6 L48.6,320.6 L49.1,320.6 L49.6,320.6 L50.1,320.6 L50.6,320.6 L51.1,320.6 L51.6,320.6 L52.1,320.6 L52.6,320.6 L53.1,320.6 L53.6,320.6 L54.1,320.6 L54.6,320.6 L55.1,320.6 L55.6,320.6 L56.1,320.6 L56.6,320.6 L57.1,320.6 L57.6,320.6 L58.1,320.6 L58.6,320.6 L59.1,320.5 L59.6,320.4 L60.1,320.3 L60.6,320.2 L61.1,319.9 L61.6,319.6 L62.1,319.1 L62.6,318.5 L63.1,317.7 L63.6,316.7 L64.1,315.5 L64.6,314.2 L65.1,312.9 L65.6,311.5 L66.1,310.3 L66.6,309.2 L67.1,308.5 L67.6,308.1 L68.1,308.2 L68.6,308.5 L69.1,309.2 L69.6,310.1 L70.1,311.2 L70.6,312.4 L71.1,313.7 L71.6,314.9 L72.1,316.0 L72.6,317.0 L73.1,317.9 L73.6,318.6 L74.1,319.1 L74.6,319.6 L75.1,319.9 L75.6,320.1 L76.1,320.3 L76.6,320.4 L77.1,320.5 L77.6,320.5 L78.1,320.6 L78.6,320.6 L79.1,320.6 L79.6,320.6 L80.1,320.6 L80.6,320.6 L81.1,320.6 L81.6,320.6 L82.1,320.6 L82.6,320.6 L83.1,320.6 L83.6,320.6 L84.1,320.6 L84.6,320.6 L85.1,320.6 L85.6,320.6 L86.1,320.6 L86.6,320.6 L87.1,320.6 L87.6,320.6 L88.1,320.6 L88.6,320.6 L89.1,320.6 L89.6,320.6 L90.1,320.6 L90.6,320.6 L91.1,320.6 L91.6,320.6 L92.1,320.6 L92.6,320.6 L93.1,320.6 L93.6,320.6 L94.1,320.6 L94.6,320.6 L95.1,320.6 L95.6,320.6 L96.1,320.6 L96.6,320.6 L97.1,320.6 L97.6,320.6 L98.1,320.6 L98.6,320.6 L99.1,320.6 L99.6,320.6 L100.1,320.6 L100.6,320.6 L101.1,320.6 L101.6,320.6 L102.1,320.6 L102.6,320.6 L103.1,320.6 L103.6,320.6 L104.1,320.6 L104.6,320.6 L105.1,320.6 L105.6,320.6 L106.1,320.6 L106.6,320.6 L107.1,320.6 L107.6,320.6 L108.1,320.6 L108.6,320.6 L109.1,320.6 L109.6,320.6 L110.1,320.6 L110.6,320.6 L111.1,320.6 L111.6,320.6 L112.1,320.6 L112.6,320.6 L113.1,320.6 L113.6,320.6 L114.1,320.6 L114.6,320.6 L115.1,320.6 L115.6,320.6 L116.1,320.6 L116.6,320.6 L117.1,320.6 L117.6,320.6 L118.1,320.6 L118.6,320.6 L119.1,320.6 L119.6,320.6 L120.1,320.6 L120.6,320.6 L121.1,320.6 L121.6,320.6 L122.1,320.6 L122.6,320.6 L123.1,320.6 L123.6,320.6 L124.1,320.6 L124.6,320.6 L125.1,320.6 L125.6,320.6 L126.1,320.6 L126.6,320.6 L127.1,320.6 L127.6,320.6 L128.1,320.6 L128.6,320.6 L129.1,320.6 L129.6,320.5 L130.1,320.5 L130.6,320.4 L131.1,320.2 L131.6,319.9 L132.1,319.6 L132.6,319.0 L133.1,318.1 L133.6,316.9 L134.1,315.3 L134.6,313.0 L135.1,310.1 L135.6,306.4 L136.1,301.8 L136.6,296.3 L137.1,289.8 L137.6,282.3 L138.1,274.1 L138.6,265.3 L139.1,256.2 L139.6,247.0 L140.1,238.1 L140.6,229.9 L141.1,222.7 L141.6,216.8 L142.1,212.3 L142.6,209.4 L143.1,208.1 L143.6,208.0 L144.1,209.0 L144.6,211.4 L145.1,215.2 L145.6,220.5 L146.1,227.0 L146.6,234.6 L147.1,242.9 L147.6,251.7 L148.1,260.6 L148.6,269.3 L149.1,277.2 L149.6,283.7 L150.1,289.8 L150.6,295.4 L151.1,300.3 L151.6,304.4 L152.1,307.8 L152.6,310.6 L153.1,312.7 L153.6,314.4 L154.1,315.6 L154.6,316.6 L155.1,317.3 L155.6,317.8 L156.1,318.1 L156.6,318.4 L157.1,318.6 L157.6,318.8 L158.1,319.0 L158.6,319.1 L159.1,319.2 L159.6,319.3 L160.1,319.3 L160.6,319.4 L161.1,319.5 L161.6,319.6 L162.1,319.6 L162.6,319.7 L163.1,319.7 L163.6,319.8 L164.1,319.8 L164.6,319.9 L165.1,319.9 L165.6,320.0 L166.1,320.0 L166.6,320.0 L167.1,320.1 L167.6,320.1 L168.1,320.1 L168.6,320.2 L169.1,320.2 L169.6,320.2 L170.1,320.2 L170.6,320.3 L171.1,320.3 L171.6,320.3 L172.1,320.3 L172.6,320.3 L173.1,320.4 L173.6,320.4 L174.1,320.4 L174.6,320.4 L175.1,320.4 L175.6,320.4 L176.1,320.4 L176.6,320.4 L177.1,320.5 L177.6,320.5 L178.1,320.5 L178.6,320.5 L179.1,320.5 L179.6,320.5 L180.1,320.5 L180.6,320.5 L181.1,320.5 L181.6,320.5 L182.1,320.5 L182.6,320.5 L183.1,320.5 L183.6,320.5 L184.1,320.5 L184.6,320.5 L185.1,320.5 L185.6,320.5 L186.1,320.6 L186.6,320.6 L187.1,320.6 L187.6,320.6 L188.1,320.6 L188.6,320.6 L189.1,320.6 L189.6,320.6 L190.1,320.6 L190.6,320.6 L191.1,320.6 L191.6,320.6 L192.1,320.6 L192.6,320.6 L193.1,320.6 L193.6,320.6 L194.1,320.6 L194.6,320.6 L195.1,320.6 L195.6,320.6 L196.1,320.6 L196.6,320.6 L197.1,320.6 L197.6,320.6 L198.1,320.6 L198.6,320.6 L199.1,320.6 L199.6,320.6 L200.1,320.6 L200.6,320.6 L201.1,320.6 L201.6,320.6 L202.1,320.6 L202.6,320.6 L203.1,320.6 L203.6,320.6 L204.1,320.6 L204.6,320.6 L205.1,320.6 L205.6,320.6 L206.1,320.6 L206.6,320.6 L207.1,320.6 L207.6,320.6 L208.1,320.6 L208.6,320.6 L209.1,320.6 L209.6,320.6 L210.1,320.6 L210.6,320.6 L211.1,320.6 L211.6,320.6 L212.1,320.6 L212.6,320.6 L213.1,320.6 L213.6,320.6 L214.1,320.6 L214.6,320.6 L215.1,320.6 L215.6,320.6 L216.1,320.6" fill="none" stroke="#6a5cf0" stroke-width="1.0" stroke-linejoin="round" />
</g>
<line x1="30.60" y1="188.30" x2="216.10" y2="188.30" stroke="#6a6a6a" stroke-width="0.9" />
<line x1="216.10" y1="188.30" x2="216.10" y2="321.20" stroke="#6a6a6a" stroke-width="0.9" />
<line x1="30.60" y1="188.30" x2="30.60" y2="321.20" stroke="#222" stroke-width="0.9" />
<line x1="30.60" y1="321.20" x2="216.10" y2="321.20" stroke="#222" stroke-width="0.9" />
<line x1="29.70" y1="188.30" x2="29.70" y2="321.20" stroke="#444" stroke-width="1.0" stroke-dasharray="0.7 1.5"/>
<line x1="30.60" y1="322.10" x2="216.10" y2="322.10" stroke="#666" stroke-width="0.9" stroke-dasharray="0.7 3.0"/>
<text x="28.20" y="302.20" font-size="7.5" text-anchor="end" fill="#111" stroke="#111" stroke-width="0.3" >1.0</text>
<line x1="28.60" y1="299.60" x2="30.60" y2="299.60" stroke="#222" stroke-width="0.8" />
<text x="28.20" y="280.30" font-size="7.5" text-anchor="end" fill="#111" stroke="#111" stroke-width="0.3" >2.0</text>
<line x1="28.60" y1="277.70" x2="30.60" y2="277.70" stroke="#222" stroke-width="0.8" />
<text x="28.20" y="258.40" font-size="7.5" text-anchor="end" fill="#111" stroke="#111" stroke-width="0.3" >3.0</text>
<line x1="28.60" y1="255.80" x2="30.60" y2="255.80" stroke="#222" stroke-width="0.8" />
<text x="28.20" y="236.50" font-size="7.5" text-anchor="end" fill="#111" stroke="#111" stroke-width="0.3" >4.0</text>
<line x1="28.60" y1="233.90" x2="30.60" y2="233.90" stroke="#222" stroke-width="0.8" />
<text x="28.20" y="214.60" font-size="7.5" text-anchor="end" fill="#111" stroke="#111" stroke-width="0.3" >5.0</text>
<line x1="28.60" y1="212.00" x2="30.60" y2="212.00" stroke="#222" stroke-width="0.8" />
<text x="28.20" y="192.70" font-size="7.5" text-anchor="end" fill="#111" stroke="#111" stroke-width="0.3" >6.0</text>
<line x1="28.60" y1="190.10" x2="30.60" y2="190.10" stroke="#222" stroke-width="0.8" />
<text x="25.80" y="324.70" font-size="7.6" text-anchor="middle" fill="#111" stroke="#111" stroke-width="0.3" >0</text>
<line x1="61.60" y1="321.20" x2="61.60" y2="323.20" stroke="#333" stroke-width="0.8" />
<text x="61.60" y="328.70" font-size="7.6" text-anchor="middle" fill="#111" stroke="#111" stroke-width="0.3" >10.0</text>
<line x1="97.40" y1="321.20" x2="97.40" y2="323.20" stroke="#333" stroke-width="0.8" />
<text x="97.40" y="328.70" font-size="7.6" text-anchor="middle" fill="#111" stroke="#111" stroke-width="0.3" >11.0</text>
<line x1="133.20" y1="321.20" x2="133.20" y2="323.20" stroke="#333" stroke-width="0.8" />
<text x="133.20" y="328.70" font-size="7.6" text-anchor="middle" fill="#111" stroke="#111" stroke-width="0.3" >12.0</text>
<line x1="169.00" y1="321.20" x2="169.00" y2="323.20" stroke="#333" stroke-width="0.8" />
<text x="169.00" y="328.70" font-size="7.6" text-anchor="middle" fill="#111" stroke="#111" stroke-width="0.3" >13.0</text>
<line x1="204.80" y1="321.20" x2="204.80" y2="323.20" stroke="#333" stroke-width="0.8" />
<text x="204.80" y="328.70" font-size="7.6" text-anchor="middle" fill="#111" stroke="#111" stroke-width="0.3" >14.0</text>
<line x1="43.70" y1="321.20" x2="43.70" y2="322.40" stroke="#555" stroke-width="0.7" />
<line x1="79.50" y1="321.20" x2="79.50" y2="322.40" stroke="#555" stroke-width="0.7" />
<line x1="115.30" y1="321.20" x2="115.30" y2="322.40" stroke="#555" stroke-width="0.7" />
<line x1="151.10" y1="321.20" x2="151.10" y2="322.40" stroke="#555" stroke-width="0.7" />
<line x1="186.90" y1="321.20" x2="186.90" y2="322.40" stroke="#555" stroke-width="0.7" />
<text x="77.50" y="339.40" font-size="8.6" text-anchor="start" fill="#111" stroke="#111" stroke-width="0.3" >Retention time(min)</text>
<text transform="translate(9.3,255.7) rotate(-90)" font-size="9.3" text-anchor="middle" fill="#111" stroke="#111" stroke-width="0.3">Signal intensity (mV)</text>
<text x="221.00" y="297.40" font-size="10.0" text-anchor="start" fill="#111" stroke="#111" stroke-width="0.3" >Mock</text>
<text x="221.00" y="309.60" font-size="9.9" text-anchor="start" fill="#111" stroke="#111" stroke-width="0.3" >WT</text>
<text x="221.00" y="322.00" font-size="9.7" text-anchor="start" fill="#111" stroke="#111" stroke-width="0.3" >&#916;N</text>
<text x="71.60" y="199.00" font-size="10.0" text-anchor="middle" fill="#111" stroke="#111" stroke-width="0.3" >Product</text>
<line x1="59.80" y1="205.00" x2="59.80" y2="213.70" stroke="#111" stroke-width="0.9" />
<line x1="59.80" y1="213.70" x2="68.10" y2="219.70" stroke="#111" stroke-width="0.9" />
<line x1="76.70" y1="213.70" x2="68.10" y2="219.70" stroke="#111" stroke-width="0.9" />
<line x1="76.70" y1="205.00" x2="76.70" y2="213.70" stroke="#111" stroke-width="0.9" />
<line x1="84.30" y1="205.00" x2="76.70" y2="213.70" stroke="#111" stroke-width="0.9" />
<line x1="68.10" y1="219.70" x2="68.10" y2="240.50" stroke="#111" stroke-width="0.9" />
<rect x="57.20" y="202.40" width="5.20" height="5.20" fill="#4d7fc4" stroke="#1a1a1a" stroke-width="0.7" />
<rect x="74.10" y="202.40" width="5.20" height="5.20" fill="#4d7fc4" stroke="#1a1a1a" stroke-width="0.7" />
<rect x="81.70" y="202.20" width="5.20" height="5.20" fill="#4d7fc4" stroke="#1a1a1a" stroke-width="0.7" />
<circle cx="59.80" cy="213.70" r="2.6" fill="#5aa845" stroke="#1a1a1a" stroke-width="0.7"/>
<circle cx="76.70" cy="213.70" r="2.6" fill="#5aa845" stroke="#1a1a1a" stroke-width="0.7"/>
<circle cx="68.10" cy="219.70" r="2.6" fill="#5aa845" stroke="#1a1a1a" stroke-width="0.7"/>
<rect x="65.50" y="225.10" width="5.20" height="5.20" fill="#4d7fc4" stroke="#1a1a1a" stroke-width="0.7" />
<rect x="65.50" y="233.40" width="5.20" height="5.20" fill="#4d7fc4" stroke="#1a1a1a" stroke-width="0.7" />
<text x="67.60" y="248.90" font-size="8.5" text-anchor="middle" fill="#111" stroke="#111" stroke-width="0.3" >Asn</text>
<line x1="68.50" y1="250.30" x2="68.50" y2="254.70" stroke="#222" stroke-width="1.0" />
<text x="69.70" y="262.30" font-size="8.5" text-anchor="middle" fill="#111" stroke="#111" stroke-width="0.3" >linker</text>
<line x1="68.50" y1="263.10" x2="68.50" y2="267.00" stroke="#222" stroke-width="1.0" />
<text x="69.70" y="274.80" font-size="8.5" text-anchor="middle" fill="#111" stroke="#111" stroke-width="0.3" >PNSNB</text>
<line x1="68.60" y1="275.80" x2="68.60" y2="286.30" stroke="#d43a33" stroke-width="1.7" />
<path d="M64.10,285.60 L73.10,285.60 L68.60,290.30 Z" fill="#d43a33"/>
<text x="184.50" y="200.10" font-size="10.0" text-anchor="middle" fill="#111" stroke="#111" stroke-width="0.3" >Substrate</text>
<line x1="171.40" y1="205.00" x2="171.40" y2="212.30" stroke="#111" stroke-width="0.9" />
<line x1="171.40" y1="212.30" x2="179.00" y2="220.30" stroke="#111" stroke-width="0.9" />
<line x1="186.80" y1="212.30" x2="179.00" y2="220.30" stroke="#111" stroke-width="0.9" />
<line x1="186.80" y1="205.00" x2="186.80" y2="212.30" stroke="#111" stroke-width="0.9" />
<line x1="179.00" y1="220.30" x2="179.00" y2="239.90" stroke="#111" stroke-width="0.9" />
<rect x="168.90" y="202.50" width="5.00" height="5.00" fill="#4d7fc4" stroke="#1a1a1a" stroke-width="0.7" />
<rect x="184.30" y="202.50" width="5.00" height="5.00" fill="#4d7fc4" stroke="#1a1a1a" stroke-width="0.7" />
<circle cx="171.40" cy="212.30" r="2.6" fill="#5aa845" stroke="#1a1a1a" stroke-width="0.7"/>
<circle cx="186.80" cy="212.30" r="2.6" fill="#5aa845" stroke="#1a1a1a" stroke-width="0.7"/>
<circle cx="179.00" cy="220.30" r="2.6" fill="#5aa845" stroke="#1a1a1a" stroke-width="0.7"/>
<rect x="176.50" y="225.00" width="5.00" height="5.00" fill="#4d7fc4" stroke="#1a1a1a" stroke-width="0.7" />
<rect x="176.50" y="233.40" width="5.00" height="5.00" fill="#4d7fc4" stroke="#1a1a1a" stroke-width="0.7" />
<text x="178.40" y="248.90" font-size="8.5" text-anchor="middle" fill="#111" stroke="#111" stroke-width="0.3" >Asn</text>
<line x1="178.50" y1="250.30" x2="178.50" y2="254.70" stroke="#222" stroke-width="1.0" />
<text x="180.50" y="262.00" font-size="8.5" text-anchor="middle" fill="#111" stroke="#111" stroke-width="0.3" >linker</text>
<line x1="178.50" y1="263.10" x2="178.50" y2="267.00" stroke="#222" stroke-width="1.0" />
<text x="180.30" y="274.30" font-size="8.5" text-anchor="middle" fill="#111" stroke="#111" stroke-width="0.3" >PNSNB</text>
<line x1="167.40" y1="246.70" x2="158.11" y2="251.83" stroke="#d43a33" stroke-width="1.7" />
<path d="M156.67,248.17 L160.44,255.00 L154.00,254.10 Z" fill="#d43a33"/>
<text x="248.60" y="14.70" font-size="18" text-anchor="start" font-weight="bold" fill="#000" >B</text>
<text x="306.00" y="11.90" font-size="11.5" text-anchor="start" fill="#111" stroke="#111" stroke-width="0.3" >GnT-V activity</text>
<line x1="303.20" y1="14.40" x2="380.70" y2="14.40" stroke="#111" stroke-width="1.0" />
<line x1="286.60" y1="24.00" x2="286.60" y2="137.20" stroke="#111" stroke-width="1.2" />
<line x1="282.00" y1="136.60" x2="398.00" y2="136.60" stroke="#111" stroke-width="1.2" />
<line x1="281.80" y1="24.60" x2="286.60" y2="24.60" stroke="#111" stroke-width="1.2" />
<text x="278.00" y="29.80" font-size="9.6" text-anchor="end" fill="#111" stroke="#111" stroke-width="0.3" >2.0</text>
<line x1="281.80" y1="52.60" x2="286.60" y2="52.60" stroke="#111" stroke-width="1.2" />
<text x="278.00" y="57.80" font-size="9.6" text-anchor="end" fill="#111" stroke="#111" stroke-width="0.3" >1.5</text>
<line x1="281.80" y1="80.60" x2="286.60" y2="80.60" stroke="#111" stroke-width="1.2" />
<text x="278.00" y="85.80" font-size="9.6" text-anchor="end" fill="#111" stroke="#111" stroke-width="0.3" >1.0</text>
<line x1="281.80" y1="108.60" x2="286.60" y2="108.60" stroke="#111" stroke-width="1.2" />
<text x="278.00" y="113.80" font-size="9.6" text-anchor="end" fill="#111" stroke="#111" stroke-width="0.3" >0.5</text>
<line x1="281.80" y1="136.60" x2="286.60" y2="136.60" stroke="#111" stroke-width="1.2" />
<text x="278.00" y="141.80" font-size="9.6" text-anchor="end" fill="#111" stroke="#111" stroke-width="0.3" >0.0</text>
<line x1="312.30" y1="136.60" x2="312.30" y2="141.00" stroke="#111" stroke-width="1.2" />
<line x1="372.20" y1="136.60" x2="372.20" y2="141.00" stroke="#111" stroke-width="1.2" />
<text transform="translate(260.0,74.2) rotate(-90)" font-size="11.8" text-anchor="middle" fill="#111" stroke="#111" stroke-width="0.3">Relative activity</text>
<text x="313.10" y="151.30" font-size="10.3" text-anchor="middle" fill="#111" stroke="#111" stroke-width="0.3" >GnGnbi-PA</text>
<text x="398.60" y="151.50" font-size="10.1" text-anchor="middle" fill="#111" stroke="#111" stroke-width="0.3" >GnGnbi-Asn-PNSNB</text>
<rect x="294.90" y="80.60" width="13.00" height="56.00" fill="#808080" stroke="#111" stroke-width="1.4" />
<rect x="316.80" y="66.40" width="13.70" height="70.20" fill="#fff" stroke="#111" stroke-width="1.4" />
<rect x="354.60" y="80.60" width="13.00" height="56.00" fill="#808080" stroke="#111" stroke-width="1.4" />
<rect x="376.30" y="70.00" width="13.90" height="66.60" fill="#fff" stroke="#111" stroke-width="1.4" />
<circle cx="296.0" cy="80.6" r="2.15" fill="#111"/>
<circle cx="299.5" cy="80.6" r="2.15" fill="#111"/>
<circle cx="303.0" cy="80.6" r="2.15" fill="#111"/>
<circle cx="306.6" cy="80.6" r="2.15" fill="#111"/>
<circle cx="355.7" cy="80.6" r="2.15" fill="#111"/>
<circle cx="359.2" cy="80.6" r="2.15" fill="#111"/>
<circle cx="362.7" cy="80.6" r="2.15" fill="#111"/>
<circle cx="366.3" cy="80.6" r="2.15" fill="#111"/>
<line x1="323.80" y1="66.50" x2="323.80" y2="47.90" stroke="#333" stroke-width="1.0" />
<line x1="320.00" y1="47.90" x2="327.90" y2="47.90" stroke="#999" stroke-width="1.4" />
<rect x="321.70" y="49.30" width="4.20" height="4.20" fill="#111" stroke="none" stroke-width="0" rx="0.6"/>
<rect x="316.30" y="57.90" width="4.20" height="4.20" fill="#111" stroke="none" stroke-width="0" rx="0.6"/>
<rect x="326.50" y="57.90" width="4.20" height="4.20" fill="#111" stroke="none" stroke-width="0" rx="0.6"/>
<rect x="321.50" y="89.90" width="4.20" height="4.20" fill="#111" stroke="none" stroke-width="0" rx="0.6"/>
<line x1="382.70" y1="70.00" x2="382.70" y2="47.40" stroke="#333" stroke-width="1.0" />
<line x1="379.50" y1="47.40" x2="386.50" y2="47.40" stroke="#999" stroke-width="1.4" />
<rect x="380.60" y="45.30" width="4.20" height="4.20" fill="#111" stroke="none" stroke-width="0" rx="0.6"/>
<rect x="380.60" y="57.90" width="4.20" height="4.20" fill="#111" stroke="none" stroke-width="0" rx="0.6"/>
<rect x="380.60" y="68.90" width="4.20" height="4.20" fill="#111" stroke="none" stroke-width="0" rx="0.6"/>
<rect x="380.90" y="98.50" width="4.20" height="4.20" fill="#111" stroke="none" stroke-width="0" rx="0.6"/>
<path d="M299.4,68.8 L299.4,26.6 L323.7,26.6 L323.7,42.8" fill="none" stroke="#111" stroke-width="1.1" stroke-linejoin="round" />
<path d="M360.3,69.6 L360.3,26.6 L384.7,26.6 L384.7,42.8" fill="none" stroke="#111" stroke-width="1.1" stroke-linejoin="round" />
<text x="309.10" y="24.70" font-size="10.0" text-anchor="middle" fill="#111" stroke="#111" stroke-width="0.3" >ns</text>
<text x="370.50" y="24.70" font-size="10.0" text-anchor="middle" fill="#111" stroke="#111" stroke-width="0.3" >ns</text>
<rect x="396.20" y="23.80" width="38.80" height="34.80" fill="#fff" stroke="#8a8a8a" stroke-width="1.0" />
<rect x="398.40" y="29.20" width="11.00" height="10.60" fill="#a3a3a3" stroke="#6a6a6a" stroke-width="0.9" />
<rect x="398.40" y="43.70" width="11.00" height="11.40" fill="#fff" stroke="#444" stroke-width="0.9" />
<text x="418.20" y="38.80" font-size="10.2" text-anchor="start" fill="#111" stroke="#111" stroke-width="0.3" >WT</text>
<text x="418.20" y="54.00" font-size="10.0" text-anchor="start" fill="#111" stroke="#111" stroke-width="0.3" >&#916;N</text>
<text x="448.90" y="14.60" font-size="18" text-anchor="start" font-weight="bold" fill="#000" >C</text>
<text x="459.20" y="29.80" font-size="10.0" text-anchor="start" font-weight="bold" fill="#111" >GnT-V</text>
<text x="458.50" y="44.70" font-size="10.2" text-anchor="start" fill="#111" stroke="#111" stroke-width="0.3" >N-terminal</text>
<text x="483.30" y="57.60" font-size="9.5" text-anchor="start" fill="#111" stroke="#111" stroke-width="0.3" >T121</text>
<text x="517.50" y="57.50" font-size="10.0" text-anchor="start" fill="#111" stroke="#111" stroke-width="0.3" >A128</text>
<text x="588.00" y="57.50" font-size="10.0" text-anchor="start" fill="#111" stroke="#111" stroke-width="0.3" >P200</text>
<text x="734.60" y="44.70" font-size="9.9" text-anchor="end" fill="#111" stroke="#111" stroke-width="0.3" >C-terminal</text>
<text x="734.60" y="56.50" font-size="9.3" text-anchor="end" fill="#111" stroke="#111" stroke-width="0.3" >L741</text>
<rect x="457.40" y="61.40" width="39.30" height="17.00" fill="#d99ad9" stroke="#c67fc8" stroke-width="0.9" />
<rect x="496.70" y="61.40" width="31.40" height="17.00" fill="#c5c5c5" stroke="#8e8e8e" stroke-width="0.9" />
<rect x="528.10" y="61.40" width="69.70" height="17.00" fill="#8a8cf3" stroke="#8a8cf3" stroke-width="0.9" />
<rect x="597.80" y="61.40" width="136.60" height="17.00" fill="#edd2b5" stroke="#dfac86" stroke-width="0.9" />
<text x="461.40" y="73.20" font-size="10.1" text-anchor="start" fill="#111" stroke="#111" stroke-width="0.3" >6 x His</text>
<text x="501.20" y="73.20" font-size="9.9" text-anchor="start" fill="#111" stroke="#111" stroke-width="0.3" >Stem</text>
<text x="538.90" y="73.10" font-size="10.0" text-anchor="start" font-weight="bold" fill="#fff" >N domain</text>
<text x="623.00" y="73.50" font-size="10.1" text-anchor="start" fill="#111" stroke="#111" stroke-width="0.3" >Catalytic domain</text>
<path d="M578.8,78.6 L578.8,83.6 L638.7,83.6 L638.7,78.6" fill="none" stroke="#e57a7a" stroke-width="0.9" stroke-linejoin="round" />
<text x="565.50" y="95.70" font-size="10.0" text-anchor="start" fill="#111" stroke="#111" stroke-width="0.3" >C172</text>
<text x="634.30" y="95.70" font-size="10.05" text-anchor="start" fill="#111" stroke="#111" stroke-width="0.3" >C338</text>
<text x="459.20" y="114.70" font-size="9.85" text-anchor="start" font-weight="bold" fill="#111" >GnT-V &#916;N</text>
<rect x="527.40" y="102.50" width="39.10" height="17.00" fill="#d99ad9" stroke="#c67fc8" stroke-width="0.9" />
<rect x="566.50" y="102.50" width="31.00" height="17.00" fill="#c5c5c5" stroke="#7a7a7a" stroke-width="0.9" />
<rect x="597.50" y="102.50" width="136.90" height="17.00" fill="#edd2b5" stroke="#dfac86" stroke-width="0.9" />
<text x="532.80" y="114.80" font-size="10.1" text-anchor="start" fill="#111" stroke="#111" stroke-width="0.3" >6 x His</text>
<text x="567.90" y="114.80" font-size="9.9" text-anchor="start" fill="#111" stroke="#111" stroke-width="0.3" >Stem</text>
<text x="620.30" y="114.80" font-size="10.1" text-anchor="start" fill="#111" stroke="#111" stroke-width="0.3" >Catalytic domain</text>
<line x1="643.10" y1="121.00" x2="643.10" y2="128.20" stroke="#ee8c8c" stroke-width="1.2" />
<text x="633.90" y="140.40" font-size="10.05" text-anchor="start" fill="#111" stroke="#111" stroke-width="0.3" >A338</text>
<text x="248.60" y="181.30" font-size="18" text-anchor="start" font-weight="bold" fill="#000" >D</text>
<text x="259.00" y="198.20" font-size="10.1" text-anchor="start" fill="#111" stroke="#111" stroke-width="0.3" >(kDa)</text>
<defs><linearGradient id="gel" x1="0" y1="0" x2="0" y2="1"><stop offset="0" stop-color="#d4d4d4"/><stop offset="0.5" stop-color="#cdcdcd"/><stop offset="1" stop-color="#c3c3c3"/></linearGradient><linearGradient id="bwt" x1="0" y1="0" x2="0" y2="1"><stop offset="0" stop-color="#959595"/><stop offset="0.5" stop-color="#a0a0a0"/><stop offset="1" stop-color="#c4c4c4"/></linearGradient><linearGradient id="bdn" x1="0" y1="0" x2="0" y2="1"><stop offset="0" stop-color="#a8a8a8"/><stop offset="0.4" stop-color="#939393"/><stop offset="1" stop-color="#b8b8b8"/></linearGradient><filter id="blur1" x="-20%" y="-80%" width="140%" height="260%"><feGaussianBlur stdDeviation="0.7"/></filter><filter id="blur2" x="-20%" y="-80%" width="140%" height="260%"><feGaussianBlur stdDeviation="0.5"/></filter></defs>
<rect x="308.60" y="188.40" width="56.00" height="136.40" fill="url(#gel)" stroke="#8a8a8a" stroke-width="1.1" />
<rect x="326.40" y="189.50" width="2.00" height="134.00" fill="#d2d2d2" stroke="none" stroke-width="1" opacity="0.2"/>
<rect x="343.20" y="189.50" width="2.00" height="134.00" fill="#d2d2d2" stroke="none" stroke-width="1" opacity="0.2"/>
<g filter="url(#blur1)">
<rect x="328.80" y="231.70" width="13.90" height="5.40" fill="url(#bwt)" stroke="none" stroke-width="1" />
<rect x="345.20" y="235.00" width="16.00" height="7.30" fill="url(#bdn)" stroke="none" stroke-width="1" />
</g>
<g filter="url(#blur2)">
<rect x="310.00" y="257.10" width="16.20" height="1.50" fill="#a8a8a8" stroke="none" stroke-width="1" />
<rect x="328.20" y="257.00" width="15.00" height="1.50" fill="#a8a8a8" stroke="none" stroke-width="1" />
<rect x="346.60" y="256.80" width="15.60" height="1.50" fill="#a8a8a8" stroke="none" stroke-width="1" />
</g>
<line x1="301.60" y1="195.60" x2="308.60" y2="195.60" stroke="#555" stroke-width="1.1" />
<text x="302.20" y="199.60" font-size="10.3" text-anchor="end" fill="#111" stroke="#111" stroke-width="0.3" >250</text>
<line x1="301.60" y1="208.70" x2="308.60" y2="208.70" stroke="#555" stroke-width="1.1" />
<text x="302.20" y="212.70" font-size="10.3" text-anchor="end" fill="#111" stroke="#111" stroke-width="0.3" >150</text>
<line x1="301.60" y1="222.50" x2="308.60" y2="222.50" stroke="#555" stroke-width="1.1" />
<text x="302.20" y="226.50" font-size="10.3" text-anchor="end" fill="#111" stroke="#111" stroke-width="0.3" >100</text>
<line x1="301.60" y1="236.00" x2="308.60" y2="236.00" stroke="#555" stroke-width="1.1" />
<text x="302.20" y="240.00" font-size="10.3" text-anchor="end" fill="#111" stroke="#111" stroke-width="0.3" >75</text>
<line x1="301.60" y1="252.20" x2="308.60" y2="252.20" stroke="#555" stroke-width="1.1" />
<text x="302.20" y="256.20" font-size="10.3" text-anchor="end" fill="#111" stroke="#111" stroke-width="0.3" >50</text>
<line x1="301.60" y1="266.70" x2="308.60" y2="266.70" stroke="#555" stroke-width="1.1" />
<text x="302.20" y="270.70" font-size="10.3" text-anchor="end" fill="#111" stroke="#111" stroke-width="0.3" >37</text>
<line x1="301.60" y1="285.00" x2="308.60" y2="285.00" stroke="#555" stroke-width="1.1" />
<text x="302.20" y="289.00" font-size="10.3" text-anchor="end" fill="#111" stroke="#111" stroke-width="0.3" >25</text>
<line x1="301.60" y1="292.60" x2="308.60" y2="292.60" stroke="#555" stroke-width="1.1" />
<text x="302.20" y="296.60" font-size="10.3" text-anchor="end" fill="#111" stroke="#111" stroke-width="0.3" >20</text>
<line x1="301.60" y1="305.80" x2="308.60" y2="305.80" stroke="#555" stroke-width="1.1" />
<text x="302.20" y="309.80" font-size="10.3" text-anchor="end" fill="#111" stroke="#111" stroke-width="0.3" >15</text>
<line x1="301.60" y1="314.20" x2="308.60" y2="314.20" stroke="#555" stroke-width="1.1" />
<text x="302.20" y="318.20" font-size="10.3" text-anchor="end" fill="#111" stroke="#111" stroke-width="0.3" >10</text>
<text x="369.60" y="263.30" font-size="13.5" text-anchor="middle" font-weight="bold" fill="#111" >*</text>
<text x="337.00" y="338.70" font-size="11.5" text-anchor="middle" fill="#111" stroke="#111" stroke-width="0.3" >CBB staining</text>
<text transform="translate(317.0,188.3) rotate(-31)" font-size="10.4" fill="#111" stroke="#111" stroke-width="0.3">Mock</text>
<text transform="translate(337.4,186.6) rotate(-33)" font-size="10.4" fill="#111" stroke="#111" stroke-width="0.3">WT</text>
<text transform="translate(351.7,186.4) rotate(-36)" font-size="10.2" fill="#111" stroke="#111" stroke-width="0.3"><tspan font-size="8.4">&#916;</tspan>N</text>
<text x="434.50" y="176.80" font-size="11.5" text-anchor="start" fill="#111" stroke="#111" stroke-width="0.3" >GnT-V activity</text>
<line x1="432.10" y1="178.60" x2="509.50" y2="178.60" stroke="#111" stroke-width="1.0" />
<line x1="422.50" y1="205.80" x2="422.50" y2="318.20" stroke="#111" stroke-width="1.3" />
<line x1="418.20" y1="317.70" x2="535.00" y2="317.70" stroke="#111" stroke-width="1.3" />
<line x1="418.00" y1="318.00" x2="422.50" y2="318.00" stroke="#111" stroke-width="1.3" />
<text x="414.80" y="321.30" font-size="10.0" text-anchor="end" fill="#111" stroke="#111" stroke-width="0.3" >0</text>
<line x1="418.00" y1="295.68" x2="422.50" y2="295.68" stroke="#111" stroke-width="1.3" />
<text x="414.80" y="298.98" font-size="10.0" text-anchor="end" fill="#111" stroke="#111" stroke-width="0.3" >100</text>
<line x1="418.00" y1="273.36" x2="422.50" y2="273.36" stroke="#111" stroke-width="1.3" />
<text x="414.80" y="276.66" font-size="10.0" text-anchor="end" fill="#111" stroke="#111" stroke-width="0.3" >200</text>
<line x1="418.00" y1="251.04" x2="422.50" y2="251.04" stroke="#111" stroke-width="1.3" />
<text x="414.80" y="254.34" font-size="10.0" text-anchor="end" fill="#111" stroke="#111" stroke-width="0.3" >300</text>
<line x1="418.00" y1="228.72" x2="422.50" y2="228.72" stroke="#111" stroke-width="1.3" />
<text x="414.80" y="232.02" font-size="10.0" text-anchor="end" fill="#111" stroke="#111" stroke-width="0.3" >400</text>
<line x1="418.00" y1="206.40" x2="422.50" y2="206.40" stroke="#111" stroke-width="1.3" />
<text x="414.80" y="209.70" font-size="10.0" text-anchor="end" fill="#111" stroke="#111" stroke-width="0.3" >500</text>
<line x1="448.90" y1="317.70" x2="448.90" y2="322.60" stroke="#111" stroke-width="1.3" />
<line x1="508.50" y1="317.70" x2="508.50" y2="322.60" stroke="#111" stroke-width="1.3" />
<text transform="translate(395.0,261.3) rotate(-90)" font-size="9.7" text-anchor="middle" fill="#111" stroke="#111" stroke-width="0.3">pmol/ (h &#8226; &#956;g)</text>
<text x="448.10" y="335.80" font-size="10.2" text-anchor="middle" fill="#111" stroke="#111" stroke-width="0.3" >GnGnbi-PA</text>
<text x="529.00" y="335.80" font-size="10.2" text-anchor="middle" fill="#111" stroke="#111" stroke-width="0.3" >GnGnbi-Asn-PNSNB</text>
<rect x="431.50" y="243.80" width="12.70" height="74.20" fill="#808080" stroke="#111" stroke-width="1.5" />
<rect x="453.50" y="239.00" width="13.10" height="79.00" fill="#fff" stroke="#111" stroke-width="1.5" />
<rect x="490.80" y="229.80" width="13.20" height="88.20" fill="#808080" stroke="#111" stroke-width="1.5" />
<rect x="513.00" y="223.90" width="13.30" height="94.10" fill="#fff" stroke="#111" stroke-width="1.5" />
<line x1="437.60" y1="236.30" x2="437.60" y2="250.00" stroke="#222" stroke-width="1.0" />
<line x1="434.30" y1="236.30" x2="441.30" y2="236.30" stroke="#555" stroke-width="1.2" />
<line x1="434.30" y1="250.00" x2="441.30" y2="250.00" stroke="#333" stroke-width="1.1" />
<circle cx="437.60" cy="236.80" r="1.9" fill="#111"/>
<circle cx="437.60" cy="241.90" r="1.9" fill="#111"/>
<circle cx="437.60" cy="251.40" r="1.9" fill="#111"/>
<line x1="460.00" y1="233.70" x2="460.00" y2="243.50" stroke="#222" stroke-width="1.0" />
<line x1="456.60" y1="233.70" x2="463.40" y2="233.70" stroke="#444" stroke-width="1.2" />
<line x1="456.80" y1="243.20" x2="463.20" y2="243.20" stroke="#333" stroke-width="1.1" />
<rect x="458.10" y="234.00" width="3.80" height="4.60" fill="#111" stroke="none" stroke-width="1" />
<rect x="458.10" y="240.60" width="3.80" height="3.80" fill="#111" stroke="none" stroke-width="1" />
<line x1="497.30" y1="210.60" x2="497.30" y2="248.30" stroke="#222" stroke-width="1.0" />
<line x1="493.80" y1="210.60" x2="501.00" y2="210.60" stroke="#555" stroke-width="1.2" />
<line x1="493.80" y1="248.30" x2="501.00" y2="248.30" stroke="#333" stroke-width="1.1" />
<circle cx="497.30" cy="214.90" r="2.1" fill="#111"/>
<circle cx="497.30" cy="221.80" r="2.1" fill="#111"/>
<circle cx="497.30" cy="251.50" r="2.1" fill="#111"/>
<line x1="519.30" y1="215.40" x2="519.30" y2="229.00" stroke="#222" stroke-width="1.0" />
<line x1="516.30" y1="215.40" x2="523.50" y2="215.40" stroke="#444" stroke-width="1.2" />
<line x1="516.60" y1="228.20" x2="522.00" y2="228.20" stroke="#333" stroke-width="1.1" />
<rect x="517.50" y="215.60" width="4.40" height="7.00" fill="#111" stroke="none" stroke-width="1" />
<rect x="517.40" y="228.40" width="3.80" height="3.60" fill="#111" stroke="none" stroke-width="1" />
<path d="M437.8,234.3 L437.8,213.6 L459.3,213.6 L459.3,227.3" fill="none" stroke="#111" stroke-width="1.1" stroke-linejoin="round" />
<path d="M498.3,206.2 L498.3,192.6 L519.1,192.6 L519.1,213.0" fill="none" stroke="#111" stroke-width="1.1" stroke-linejoin="round" />
<text x="446.60" y="211.90" font-size="10.3" text-anchor="middle" fill="#111" stroke="#111" stroke-width="0.3" >ns</text>
<text x="506.80" y="190.50" font-size="10.3" text-anchor="middle" fill="#111" stroke="#111" stroke-width="0.3" >ns</text>
<rect x="532.60" y="184.00" width="39.40" height="35.30" fill="#fff" stroke="#8a8a8a" stroke-width="1.0" />
<rect x="534.90" y="188.90" width="11.70" height="11.20" fill="#a3a3a3" stroke="#6a6a6a" stroke-width="0.9" />
<rect x="534.90" y="204.10" width="11.70" height="11.20" fill="#fff" stroke="#444" stroke-width="0.9" />
<text x="554.90" y="198.40" font-size="10.2" text-anchor="start" fill="#111" stroke="#111" stroke-width="0.3" >WT</text>
<text x="554.90" y="214.60" font-size="10.0" text-anchor="start" fill="#111" stroke="#111" stroke-width="0.3" >&#916;N</text>
</svg></body></html>
